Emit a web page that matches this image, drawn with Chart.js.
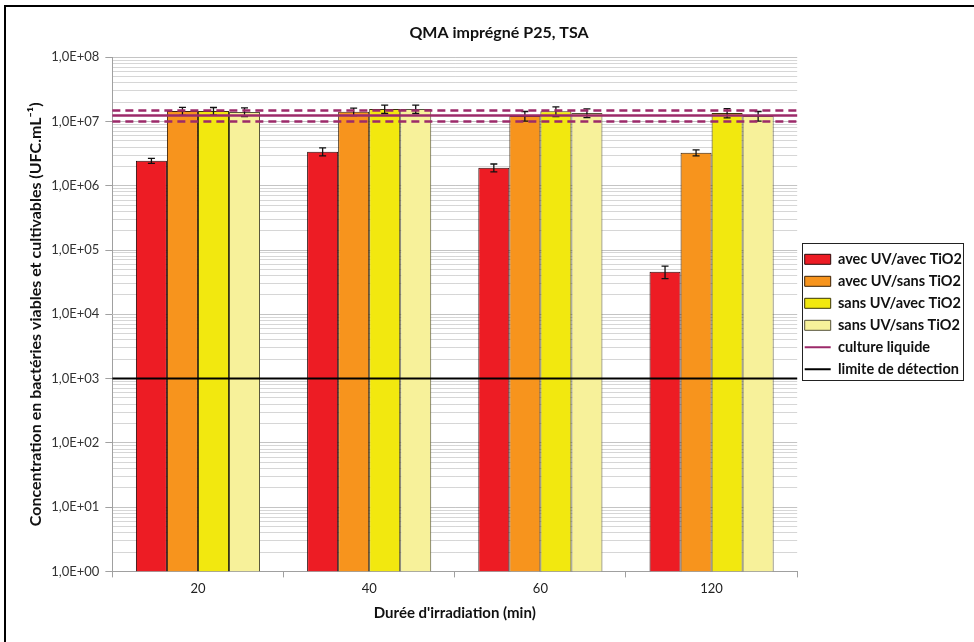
<!DOCTYPE html>
<html>
<head>
<meta charset="utf-8">
<script src="https://cdn.jsdelivr.net/npm/chart.js@4/dist/chart.umd.min.js"></script>
<style>
  html, body { margin: 0; padding: 0; background: #fff; }
  #wrap { width: 974px; height: 642px; }
</style>
</head>
<body>
<div id="wrap"><canvas id="graphique"></canvas></div>
<script>
// données
const durees = ['20', '40', '60', '120'];
const avecUvAvecTio2 = [2.45e6, 3.39e6, 1.91e6, 4.6e4];
const avecUvSansTio2 = [1.45e7, 1.42e7, 1.22e7, 3.27e6];
const sansUvAvecTio2 = [1.45e7, 1.56e7, 1.44e7, 1.36e7];
const sansUvSansTio2 = [1.41e7, 1.56e7, 1.36e7, 1.22e7];
// écarts-types (barres d'erreur)
const errAvecAvec = [0.22e6, 0.48e6, 0.27e6, 1.0e4];
const errAvecSans = [2.1e6, 1.9e6, 2.1e6, 0.35e6];
const errSansAvec = [2.0e6, 2.3e6, 2.5e6, 2.2e6];
const errSansSans = [2.2e6, 2.3e6, 2.1e6, 2.1e6];
// lignes horizontales
const cultureLiquide = 1.24e7;
const cultureBornes = [1.48e7, 1.0e7];
const limiteDetection = 1e3;
const yTicksMajeurs = [1, 1e1, 1e2, 1e3, 1e4, 1e5, 1e6, 1e7, 1e8];

const police = 'Lato, "Liberation Sans", sans-serif';
const violet = '#9c2a6a';

function formatE(v) {
  const e = Math.round(Math.log10(v));
  return '1,0E+' + (e < 10 ? '0' + e : e);
}

// barres d'erreur + lignes horizontales (culture liquide, limite)
const surcouche = {
  id: 'surcouche',
  afterDatasetsDraw(chart) {
    const y = chart.scales.y;
    const area = chart.chartArea;
    const ctx = chart.ctx;
    ctx.save();
    ctx.strokeStyle = '#111';
    ctx.lineWidth = 1.3;
    chart.data.datasets.forEach((ds, di) => {
      if (!ds.erreurs) return;
      chart.getDatasetMeta(di).data.forEach((bar, i) => {
        const v = ds.data[i], e = ds.erreurs[i];
        const yh = y.getPixelForValue(v + e);
        const yb = y.getPixelForValue(Math.max(v - e, 1));
        ctx.beginPath();
        ctx.moveTo(bar.x, yh); ctx.lineTo(bar.x, yb);
        ctx.moveTo(bar.x - 3.5, yh); ctx.lineTo(bar.x + 3.5, yh);
        ctx.moveTo(bar.x - 3.5, yb); ctx.lineTo(bar.x + 3.5, yb);
        ctx.stroke();
      });
    });

    function ligne(v, couleur, largeur, tirets) {
      const py = y.getPixelForValue(v);
      ctx.beginPath();
      ctx.setLineDash(tirets);
      ctx.strokeStyle = couleur;
      ctx.lineWidth = largeur;
      ctx.moveTo(area.left, py);
      ctx.lineTo(area.right, py);
      ctx.stroke();
    }
    ligne(limiteDetection, '#000', 2, []);
    cultureBornes.forEach(v => ligne(v, violet, 2.5, [8, 5]));
    ligne(cultureLiquide, violet, 2.5, []);
    ctx.restore();
  }
};

const cadres = {
  id: 'cadres',
  afterDraw(chart) {
    const ctx = chart.ctx;
    ctx.save();
    // cadre extérieur
    ctx.strokeStyle = '#000';
    ctx.lineWidth = 2;
    ctx.strokeRect(5, 6, 1000, 700);
    // cadre de la légende
    const boxes = chart.legend.legendHitBoxes;
    if (boxes && boxes.length) {
      let x0 = Infinity, y0 = Infinity, x1 = -Infinity, y1 = -Infinity;
      boxes.forEach(b => {
        x0 = Math.min(x0, b.left); y0 = Math.min(y0, b.top);
        x1 = Math.max(x1, b.left + b.width); y1 = Math.max(y1, b.top + b.height);
      });
      ctx.strokeStyle = '#222';
      ctx.lineWidth = 1;
      ctx.strokeRect(Math.round(x0 - 3) + 0.5, Math.round(y0 - 9) + 0.5, Math.round(x1 - x0 + 4), Math.round(y1 - y0 + 12));
    }
    ctx.restore();
  }
};

const ctx = document.getElementById('graphique');

new Chart(ctx, {
  type: 'bar',
  data: {
    labels: durees,
    datasets: [
      {
        label: 'avec UV/avec TiO2', data: avecUvAvecTio2, erreurs: errAvecAvec,
        backgroundColor: '#ed1c24', borderColor: '#2a0a0a', borderWidth: 1
      },
      {
        label: 'avec UV/sans TiO2', data: avecUvSansTio2, erreurs: errAvecSans,
        backgroundColor: '#f7941d', borderColor: '#3a2208', borderWidth: 1
      },
      {
        label: 'sans UV/avec TiO2', data: sansUvAvecTio2, erreurs: errSansAvec,
        backgroundColor: '#f2e80f', borderColor: '#3a3608', borderWidth: 1
      },
      {
        label: 'sans UV/sans TiO2', data: sansUvSansTio2, erreurs: errSansSans,
        backgroundColor: '#f7f19a', borderColor: '#55533a', borderWidth: 1
      }
    ]
  },
  options: {
    responsive: true,
    maintainAspectRatio: false,
    animation: false,
    layout: { padding: { left: 26, right: 2, top: 23, bottom: 20 } },
    datasets: {
      bar: { categoryPercentage: 0.725, barPercentage: 1.0 }
    },
    scales: {
      x: {
        grid: { display: true, drawOnChartArea: false, offset: true, color: '#a0a0a0', tickLength: 6 },
        border: { color: '#a0a0a0' },
        ticks: { color: '#222', font: { family: police, size: 13 }, padding: 4 },
        title: { display: true, text: "Durée d'irradiation (min)", color: '#111', font: { family: police, size: 15, weight: 'bold' }, padding: { top: 3, bottom: 0 } }
      },
      y: {
        type: 'logarithmic', min: 1, max: 1e8,
        afterBuildTicks(scale) {
          const t = [];
          for (let e = 0; e < 8; e++) {
            for (let k = 1; k <= 9; k++) t.push({ value: k * Math.pow(10, e) });
          }
          t.push({ value: 1e8 });
          scale.ticks = t;
        },
        grid: {
          color(c) { return yTicksMajeurs.includes(c.tick && c.tick.value) ? '#c4c4c4' : '#d6d6d6'; },
          lineWidth: 1,
          tickLength: 7,
          tickColor(c) { return yTicksMajeurs.includes(c.tick && c.tick.value) ? '#a0a0a0' : 'rgba(0,0,0,0)'; }
        },
        border: { color: '#a0a0a0' },
        ticks: {
          autoSkip: false,
          color: '#333',
          font: { family: police, size: 13 },
          padding: 6,
          callback(v) { return yTicksMajeurs.includes(v) ? formatE(v) : ''; }
        },
        title: { display: true, text: 'Concentration en bactéries viables et cultivables (UFC.mL⁻¹)', color: '#111', font: { family: police, size: 16, weight: 'bold' }, padding: { top: 0, bottom: 0 } }
      }
    },
    plugins: {
      title: {
        display: true, text: 'QMA imprégné P25, TSA', color: '#111',
        font: { family: police, size: 16, weight: 'bold' }, padding: { top: 0, bottom: 15 }
      },
      tooltip: { enabled: false },
      legend: {
        position: 'right',
        fullSize: false,
        onClick: null,
        labels: {
          font: { family: police, size: 14.5, weight: 'bold' },
          color: '#111',
          usePointStyle: true,
          pointStyleWidth: 26,
          boxHeight: 10,
          padding: 7.5,
          generateLabels(chart) {
            const items = Chart.defaults.plugins.legend.labels.generateLabels(chart);
            items.forEach(it => {
              const ds = chart.data.datasets[it.datasetIndex];
              it.pointStyle = 'rect';
              it.fillStyle = ds.backgroundColor;
              it.strokeStyle = ds.borderColor;
              it.lineWidth = 1;
            });
            items.push({ text: 'culture liquide', pointStyle: 'line', strokeStyle: violet, fillStyle: violet, lineWidth: 2, hidden: false, fontColor: '#111', datasetIndex: 4 });
            items.push({ text: 'limite de détection', pointStyle: 'line', strokeStyle: '#000', fillStyle: '#000', lineWidth: 2, hidden: false, fontColor: '#111', datasetIndex: 5 });
            return items;
          }
        }
      }
    }
  },
  plugins: [surcouche, cadres]
});
</script>
</body>
</html>
